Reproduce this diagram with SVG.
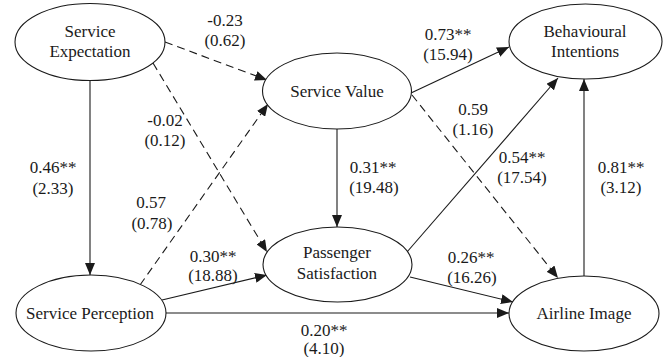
<svg xmlns="http://www.w3.org/2000/svg" width="664" height="357" viewBox="0 0 664 357" font-family="'Liberation Serif', 'DejaVu Serif', serif">
  <style>
    .node ellipse { fill: #ffffff; stroke: #1a1a1a; stroke-width: 1.1; }
    text { font-family: 'Liberation Serif', 'DejaVu Serif', serif; font-size: 17px; fill: #1a1a1a; text-anchor: middle; }
    .edge { fill: none; stroke: #1a1a1a; stroke-width: 1.1; marker-end: url(#arrow); }
    .dash { stroke-dasharray: 8 5; }
  </style>
  <defs>
    <marker id="arrow" markerUnits="userSpaceOnUse" markerWidth="12" markerHeight="10" refX="12" refY="5" orient="auto">
      <path d="M0,0 L12,5 L0,10 Z" fill="#1a1a1a"/>
    </marker>
  </defs>
  <rect width="664" height="357" fill="#ffffff"/>

  <g id="connectors">
    <line class="edge dash" x1="165" y1="42" x2="267" y2="80"/>
    <line class="edge dash" x1="153" y1="63" x2="267" y2="252"/>
    <line class="edge dash" x1="140" y1="285" x2="268" y2="104"/>
    <line class="edge" x1="90" y1="81" x2="90" y2="275"/>
    <line class="edge" x1="337" y1="129" x2="337" y2="227"/>
    <line class="edge" x1="411" y1="93" x2="509" y2="47"/>
    <line class="edge dash" x1="412" y1="95" x2="558" y2="278"/>
    <line class="edge" x1="407" y1="252" x2="558" y2="78"/>
    <line class="edge" x1="410" y1="277" x2="513" y2="302"/>
    <line class="edge" x1="162" y1="300" x2="267" y2="275"/>
    <line class="edge" x1="166" y1="313" x2="509" y2="313"/>
    <line class="edge" x1="584" y1="276" x2="584" y2="79"/>
  </g>

  <g id="labels">
    <text x="225" y="26">-0.23</text>
    <text x="225" y="46">(0.62)</text>
    <text x="165" y="126">-0.02</text>
    <text x="165" y="146">(0.12)</text>
    <text x="53" y="173">0.46**</text>
    <text x="53" y="194">(2.33)</text>
    <text x="151" y="208">0.57</text>
    <text x="152" y="229">(0.78)</text>
    <text x="213" y="262">0.30**</text>
    <text x="213" y="281">(18.88)</text>
    <text x="448" y="40">0.73**</text>
    <text x="448" y="60">(15.94)</text>
    <text x="473" y="115">0.59</text>
    <text x="473" y="135">(1.16)</text>
    <text x="522" y="163">0.54**</text>
    <text x="522" y="183">(17.54)</text>
    <text x="373" y="173">0.31**</text>
    <text x="374" y="193">(19.48)</text>
    <text x="621" y="173">0.81**</text>
    <text x="621" y="193">(3.12)</text>
    <text x="471" y="263">0.26**</text>
    <text x="472" y="283">(16.26)</text>
    <text x="324" y="336">0.20**</text>
    <text x="324" y="354">(4.10)</text>
  </g>

  <g id="service-expectation" class="node">
    <ellipse cx="90" cy="42" rx="75" ry="38.5"/>
    <text x="90" y="37">Service</text>
    <text x="90" y="57">Expectation</text>
  </g>
  <g id="service-value" class="node">
    <ellipse cx="337" cy="91" rx="74.5" ry="38"/>
    <text x="337" y="97">Service Value</text>
  </g>
  <g id="behavioural-intentions" class="node">
    <ellipse cx="585.5" cy="41.5" rx="76.5" ry="37.5"/>
    <text x="585" y="37">Behavioural</text>
    <text x="585" y="57">Intentions</text>
  </g>
  <g id="passenger-satisfaction" class="node">
    <ellipse cx="337.5" cy="264.5" rx="74.5" ry="37.5"/>
    <text x="337" y="258">Passenger</text>
    <text x="337" y="279">Satisfaction</text>
  </g>
  <g id="service-perception" class="node">
    <ellipse cx="91" cy="313" rx="75" ry="38"/>
    <text x="90" y="319">Service Perception</text>
  </g>
  <g id="airline-image" class="node">
    <ellipse cx="584" cy="313.5" rx="75" ry="37.5"/>
    <text x="584" y="319">Airline Image</text>
  </g>
</svg>
